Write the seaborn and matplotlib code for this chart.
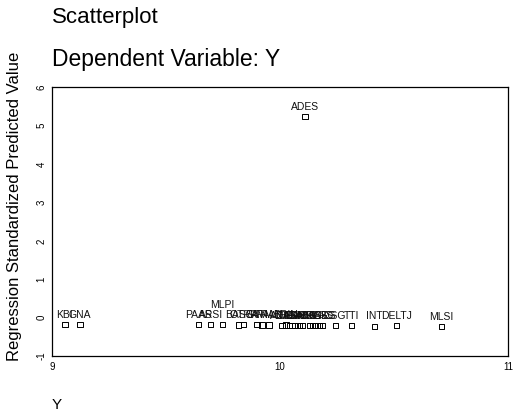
import seaborn as sns
import matplotlib.pyplot as plt
import pandas as pd

# case labels, dependent variable Y and standardized predicted value
labels = ["KBI", "GNA", "PAAS", "ARSI", "MLPI", "BASC", "OTRA", "SAVI", "RPAL",
          "TRAN", "ADIS", "BRIN", "CASA", "DEAS", "ENIC", "FERR", "GABR", "HIPO",
          "IVIS", "JUCE", "KERS", "LASG", "ADES", "CSG", "TTI", "INT", "DELTJ", "MLSI"]
y_vals = [9.057, 9.123, 9.643, 9.696, 9.749, 9.819, 9.841, 9.899, 9.921,
          9.952, 10.009, 10.026, 10.040, 10.053, 10.066, 10.084, 10.097, 10.128,
          10.141, 10.154, 10.172, 10.185, 10.110, 10.242, 10.313, 10.414, 10.511, 10.709]
pred_vals = [-0.17, -0.17, -0.18, -0.18, -0.18, -0.19, -0.17, -0.18, -0.19,
             -0.19, -0.2, -0.19, -0.2, -0.2, -0.2, -0.2, -0.21, -0.2,
             -0.2, -0.21, -0.21, -0.2, 5.24, -0.2, -0.21, -0.22, -0.21, -0.23]
raised = ["MLPI"]

x_ticks = [9, 10, 11]
y_ticks = [-1, 0, 1, 2, 3, 4, 5, 6]

df = pd.DataFrame({"Y": y_vals, "pred": pred_vals, "case": labels})

sns.set_style("white")
plt.rcParams['font.family'] = ['Liberation Sans', 'DejaVu Sans']
plt.rcParams['text.color'] = 'black'
plt.rcParams['axes.labelcolor'] = 'black'
plt.rcParams['xtick.color'] = 'black'
plt.rcParams['ytick.color'] = 'black'

fig = plt.figure(figsize=(5.19, 4.19), dpi=100)
ax = fig.add_axes([0.1, 0.15, 0.879, 0.642])

sns.scatterplot(data=df, x="Y", y="pred", marker="s", s=14,
                facecolor="none", edgecolor="black", linewidth=0.7, ax=ax)

for _, row in df.iterrows():
    dy = 14 if row["case"] in raised else 7
    ax.annotate(row["case"], (row["Y"], row["pred"]), xytext=(0, dy),
                textcoords="offset points", ha="center", va="center",
                fontsize=7.5, color="#111111")

ax.set_xlim(9, 11)
ax.set_ylim(-1, 6)
ax.set_xticks(x_ticks)
ax.set_yticks(y_ticks)
ax.set_xticklabels([str(t) for t in x_ticks], fontsize=7)
ax.set_yticklabels([str(t) for t in y_ticks], fontsize=7, rotation=90, va="center")
ax.tick_params(direction="in", length=2, width=0.8, pad=4)
for sp in ax.spines.values():
    sp.set_color("black")
    sp.set_linewidth(0.9)

ax.set_xlabel("")
ax.set_ylabel("Regression Standardized Predicted Value", fontsize=12)
ax.yaxis.set_label_coords(-0.066, 0.555)
fig.text(0.1, 0.958, "Scatterplot", fontsize=16, va="center")
fig.text(0.1, 0.857, "Dependent Variable: Y", fontsize=16.5, va="center")
fig.text(0.1, 0.033, "Y", fontsize=11, va="center")

fig.savefig("out.png", dpi=100)
